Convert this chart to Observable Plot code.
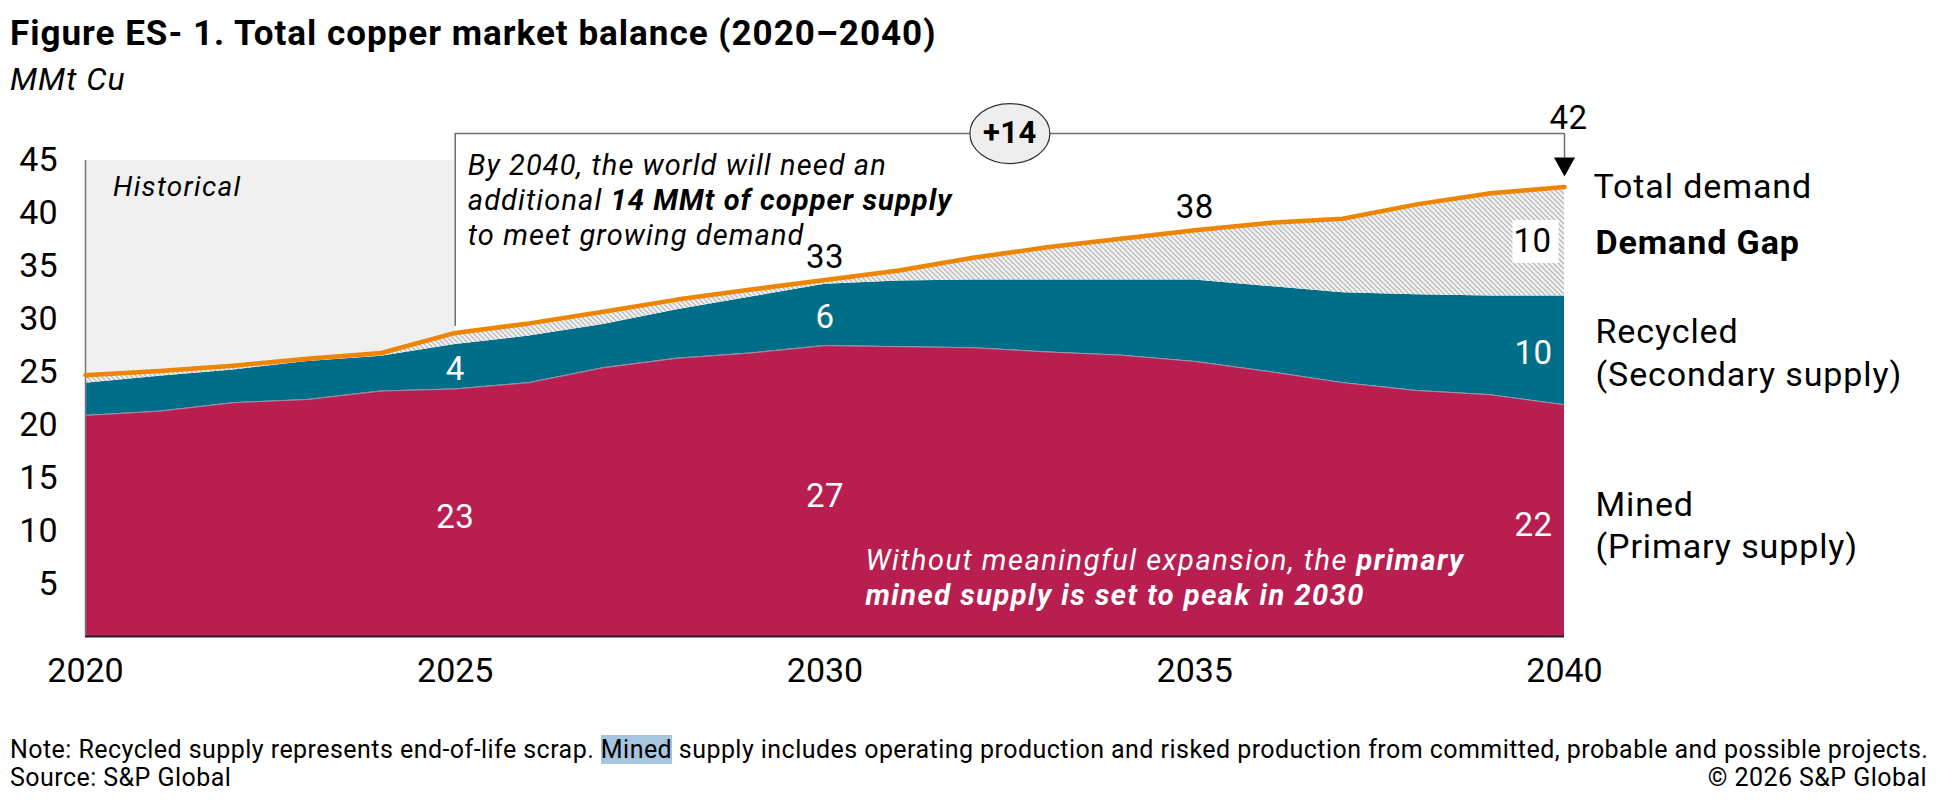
<!DOCTYPE html>
<html><head><meta charset="utf-8">
<script src="https://cdn.jsdelivr.net/npm/d3@7"></script>
<script src="https://cdn.jsdelivr.net/npm/@observablehq/plot@0.6"></script>
<style>
body{margin:0;background:#fff;font-family:Roboto, sans-serif;color:#000;width:1940px;height:800px;position:relative;overflow:hidden}
#title{position:absolute;left:10px;top:15px;font-size:35px;font-weight:700;line-height:38px;white-space:nowrap;letter-spacing:1px}
#subtitle{position:absolute;left:10px;top:61px;font-size:32px;font-style:italic;line-height:36px;letter-spacing:1px}
#chart{position:absolute;left:0;top:100px}
#note{position:absolute;left:10px;top:736px;font-size:25px;line-height:28px;white-space:nowrap;letter-spacing:0.45px}
#source{position:absolute;left:10px;top:764px;font-size:25px;line-height:28px;letter-spacing:0.45px}
#copy{position:absolute;right:13px;top:764px;font-size:25px;line-height:28px;letter-spacing:0.45px}
.hl{background:#a6c6df}
</style></head><body>
<div id="title">Figure ES- 1. Total copper market balance (2020–2040)</div>
<div id="subtitle">MMt Cu</div>
<div id="chart"></div>
<div id="note">Note: Recycled supply represents end-of-life scrap. <span class="hl">Mined</span> supply includes operating production and risked production from committed, probable and possible projects.</div>
<div id="source">Source: S&amp;P Global</div>
<div id="copy">© 2026 S&amp;P Global</div>
<script>
// ---- data (MMt Cu) ----
const years    = [2020,2021,2022,2023,2024,2025,2026,2027,2028,2029,2030,2031,2032,2033,2034,2035,2036,2037,2038,2039,2040];
const mined    = [20.9,21.3,22.1,22.4,23.2,23.4,24.0,25.4,26.3,26.8,27.5,27.4,27.3,26.9,26.6,26.0,25.05,24.0,23.25,22.85,21.9];
const recycled = [3.05,3.3,3.1,3.6,3.3,4.2,4.4,4.1,4.6,5.3,5.8,6.2,6.4,6.8,7.1,7.7,8.05,8.5,9.05,9.35,10.3];
const demand   = [24.7,25.1,25.6,26.25,26.8,28.7,29.6,30.7,31.85,32.8,33.7,34.6,35.8,36.8,37.6,38.4,39.1,39.5,40.85,41.9,42.5];
const xTicks = [2020,2025,2030,2035,2040];
const yTicks = [5,10,15,20,25,30,35,40,45];
const historical = [2020,2025];
const labelYears = [2025,2030,2040];
const minedLabelText = ["23","27","22"];
const recycledLabelText = ["4","6","10"];
const demandLabelYears = [2030,2035];
const demandLabelText = ["33","38"];
const endDemandText = "42";
const gapLabelText = "10";
const gapIncrease = "+14";
const seriesLabels = ["Total demand","Demand Gap","Recycled\n(Secondary supply)","Mined\n(Primary supply)"];

const rows = years.map((year,i)=>({year, mined:mined[i], supply:mined[i]+recycled[i], demand:demand[i]}));
const at = y => rows[years.indexOf(y)];
const last = rows[rows.length-1];

const C = {mined:"#B81F50", rec:"#006E88", dem:"#EE8500", hist:"#f0f0f0", line:"#6f6f6f"};
const bracketY = 47.55;

function sym(drawFn){ return {draw(ctx){ drawFn(ctx); }}; }
const ellipse = sym(ctx=>{const rx=40,ry=30,k=0.5523;ctx.moveTo(rx,0);ctx.bezierCurveTo(rx,ry*k,rx*k,ry,0,ry);ctx.bezierCurveTo(-rx*k,ry,-rx,ry*k,-rx,0);ctx.bezierCurveTo(-rx,-ry*k,-rx*k,-ry,0,-ry);ctx.bezierCurveTo(rx*k,-ry,rx,-ry*k,rx,0);ctx.closePath();});
const triDown = sym(ctx=>{ctx.moveTo(-10.5,-9.5);ctx.lineTo(10.5,-9.5);ctx.lineTo(0,9.5);ctx.closePath();});
const box = sym(ctx=>{ctx.moveTo(-23,-21.5);ctx.lineTo(23,-21.5);ctx.lineTo(23,21.5);ctx.lineTo(-23,21.5);ctx.closePath();});

const labelRows = labelYears.map((y,i)=>({year:y, r:at(y), m:minedLabelText[i], c:recycledLabelText[i]}));
const midRows = labelRows.filter(d=>d.year!==2040);
const endRows = labelRows.filter(d=>d.year===2040);

const plot = Plot.plot({
  width:1940, height:620, marginLeft:85, marginRight:376, marginTop:60, marginBottom:84,
  style:{fontFamily:"Roboto, sans-serif", fontSize:"34px", color:"#000", background:"transparent", overflow:"visible"},
  x:{domain:[2020,2040], ticks:xTicks, tickFormat:"d", tickSize:0, tickPadding:21, label:null},
  y:{domain:[0,45], ticks:yTicks, tickSize:0, tickPadding:28, label:null},
  marks:[
    Plot.rect([historical], {x1:d=>d[0], x2:d=>d[1], y1:()=>0, y2:()=>45, fill:C.hist}),
    Plot.areaY(rows, {x:"year", y1:()=>0, y2:"mined", fill:C.mined}),
    Plot.areaY(rows, {x:"year", y1:"mined", y2:"supply", fill:C.rec}),
    Plot.areaY(rows, {x:"year", y1:"supply", y2:"demand", fill:"url(#gapHatch)"}),
    Plot.line(rows, {x:"year", y:"mined", stroke:"#9fb6c6", strokeWidth:1, strokeOpacity:0.7}),
    Plot.ruleX([2020], {y1:()=>0, y2:()=>45, stroke:"#777", strokeWidth:1.5}),
    Plot.ruleY([0], {x1:()=>2020, x2:()=>2040, stroke:"#222", strokeWidth:2}),
    Plot.line(rows, {x:"year", y:"demand", stroke:C.dem, strokeWidth:4.5, strokeLinecap:"round", strokeLinejoin:"round"}),
    // +14 bracket
    Plot.ruleX([historical[1]], {x:d=>d, y1:d=>at(d).demand+0.6, y2:()=>bracketY, stroke:C.line, strokeWidth:1.5}),
    Plot.ruleY([bracketY], {x1:()=>historical[1], x2:()=>2040, stroke:C.line, strokeWidth:1.5}),
    Plot.ruleX([2040], {y1:()=>45.2, y2:()=>bracketY, stroke:C.line, strokeWidth:1.5}),
    Plot.dot([2040], {x:d=>d, y:()=>44.38, symbol:triDown, fill:"#000", stroke:"none"}),
    Plot.dot([gapIncrease], {x:()=>2032.5, y:()=>bracketY, symbol:ellipse, fill:"#eeeeee", stroke:"#333", strokeWidth:1.2}),
    Plot.text([gapIncrease], {x:()=>2032.5, y:()=>bracketY, text:d=>d, fontWeight:700, fontSize:31}),
    Plot.text([endDemandText], {x:()=>2040, y:()=>bracketY, text:d=>d, dx:4, dy:-15, fontSize:33}),
    // inside value labels
    Plot.text(midRows, {x:"year", y:d=>d.r.mined/2, text:"m", dy:5, fill:"#fff", fontSize:33}),
    Plot.text(midRows, {x:"year", y:d=>(d.r.mined+d.r.supply)/2, text:"c", dy:3, fill:"#fff", fontSize:33}),
    Plot.text(endRows, {x:"year", y:d=>d.r.mined/2, text:"m", dx:-31, dy:5, fill:"#fff", fontSize:33}),
    Plot.text(endRows, {x:"year", y:d=>(d.r.mined+d.r.supply)/2, text:"c", dx:-31, dy:3, fill:"#fff", fontSize:33}),
    Plot.dot([last], {x:"year", y:d=>(d.supply+d.demand)/2, symbol:box, fill:"#fff", stroke:"none", dx:-29}),
    Plot.text([last], {x:"year", y:d=>(d.supply+d.demand)/2, text:()=>gapLabelText, dx:-32, fill:"#000", fontSize:33}),
    Plot.text(demandLabelYears.map((y,i)=>({year:y, v:at(y).demand, t:demandLabelText[i]})), {x:"year", y:"v", text:"t", dy:-23, fontSize:33}),
    // right-hand series labels
    Plot.text([last], {x:"year", y:d=>d.demand, text:()=>seriesLabels[0], dx:29, textAnchor:"start", fontSize:34, className:"serieslab"}),
    Plot.text([last], {x:"year", y:d=>(d.supply+d.demand)/2-0.2, text:()=>seriesLabels[1], dx:31, textAnchor:"start", fontSize:34, fontWeight:700, className:"serieslab"}),
    Plot.text([last], {x:"year", y:d=>(d.mined+d.supply)/2, text:()=>seriesLabels[2], dx:31, textAnchor:"start", fontSize:34, lineHeight:1.27, className:"serieslab"}),
    Plot.text([last], {x:"year", y:d=>d.mined/2-0.25, text:()=>seriesLabels[3], dx:31, textAnchor:"start", fontSize:34, lineHeight:1.24, className:"serieslab"})
  ]
});

const svg = d3.select(plot);
svg.selectAll("g[aria-label='text'] text").style("letter-spacing","0.4px");
svg.selectAll(".serieslab text").style("letter-spacing","0.9px");
const defs = svg.insert("defs", ":first-child");
const pat = defs.append("pattern").attr("id","gapHatch").attr("patternUnits","userSpaceOnUse").attr("width",5).attr("height",5);
pat.append("rect").attr("width",5).attr("height",5).attr("fill","#f7f7f7");
pat.append("path").attr("d","M-1,4 l2,2 M0,0 l5,5 M4,-1 l2,2").attr("stroke","#c2c2c2").attr("stroke-width",1.6);

const xs = plot.scale("x"), ys = plot.scale("y");
function richText(x, yCenters, lines, opts){
  const t = svg.append("text").attr("text-anchor","start").attr("font-family","Roboto, sans-serif").attr("font-size",opts.size).attr("font-style","italic").attr("fill",opts.fill||"#000").style("letter-spacing", opts.ls||"0px");
  lines.forEach((segs,i)=>{
    segs.forEach((s,j)=>{
      const ts = t.append("tspan").text(s[0]).attr("font-weight", s[1] ? 700 : 400);
      if (j===0) ts.attr("x", x).attr("y", ys.apply(yCenters[i])).attr("dy","0.35em");
    });
  });
}
richText(xs.apply(2020)+28, [42.5], [[["Historical",0]]], {size:28, ls:"1.3px"});
richText(xs.apply(2025)+13, [44.53,41.22,37.92], [
  [["By 2040, the world will need an",0]],
  [["additional ",0],["14 MMt of copper supply",1]],
  [["to meet growing demand",0]]
], {size:29, ls:"1.1px"});
richText(xs.apply(2030)+41, [7.18,3.88], [
  [["Without meaningful expansion, the ",0],["primary",1]],
  [["mined supply is set to peak in 2030",1]]
], {size:29, fill:"#fff", ls:"1.5px"});

document.getElementById("chart").appendChild(plot);
</script>
</body></html>
